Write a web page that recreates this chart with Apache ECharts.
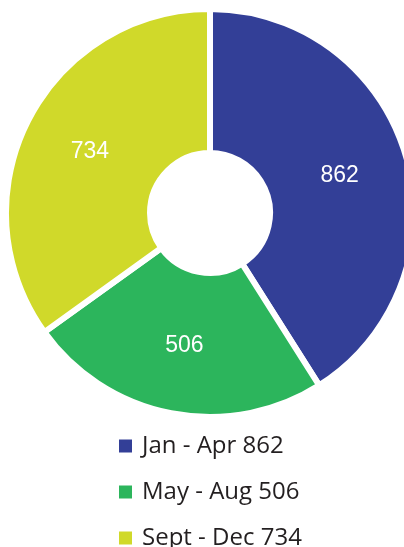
<!doctype html>
<html lang="en">
    <head>
        <meta charset="UTF-8" />
        <title>Donut</title>
        <script src="https://cdn.jsdelivr.net/npm/echarts@6.0.0/dist/echarts.min.js"></script>
        <style>
            html, body { margin: 0; padding: 0; background: #fff; }
        </style>
    </head>
    <body>
        <div id="main" style="width: 404px; height: 547px"></div>

        <script>
            // Data
            const periods = ["Jan - Apr", "May - Aug", "Sept - Dec"];
            const totals = [862, 506, 734];
            const colors = ["#333f97", "#2cb55c", "#d0d92a"];

            const myChart = echarts.init(document.getElementById("main"));

            const pieData = periods.map((p, i) => ({
                name: p,
                value: totals[i],
                itemStyle: { color: colors[i] },
            }));

            const options = {
                animation: false,
                legend: {
                    orient: "vertical",
                    left: 117,
                    top: 434,
                    height: 200,
                    padding: 0,
                    itemWidth: 15,
                    itemHeight: 15,
                    itemGap: 22,
                    icon: "rect",
                    formatter: (name) => name + " " + totals[periods.indexOf(name)],
                    textStyle: {
                        fontFamily: "Open Sans",
                        fontSize: 24,
                        color: "#231f20",
                        padding: [0, 0, 0, 4],
                    },
                },
                series: [
                    {
                        type: "pie",
                        center: [210, 213],
                        radius: [60, 204],
                        startAngle: 90,
                        clockwise: true,
                        itemStyle: { borderColor: "#fff", borderWidth: 6 },
                        label: {
                            position: "inside",
                            formatter: "{c}",
                            color: "#fff",
                            fontFamily: "Liberation Sans",
                            fontSize: 23,
                        },
                        labelLine: { show: false },
                        data: pieData,
                    },
                ],
            };

            myChart.setOption(options);
        </script>
    </body>
</html>
